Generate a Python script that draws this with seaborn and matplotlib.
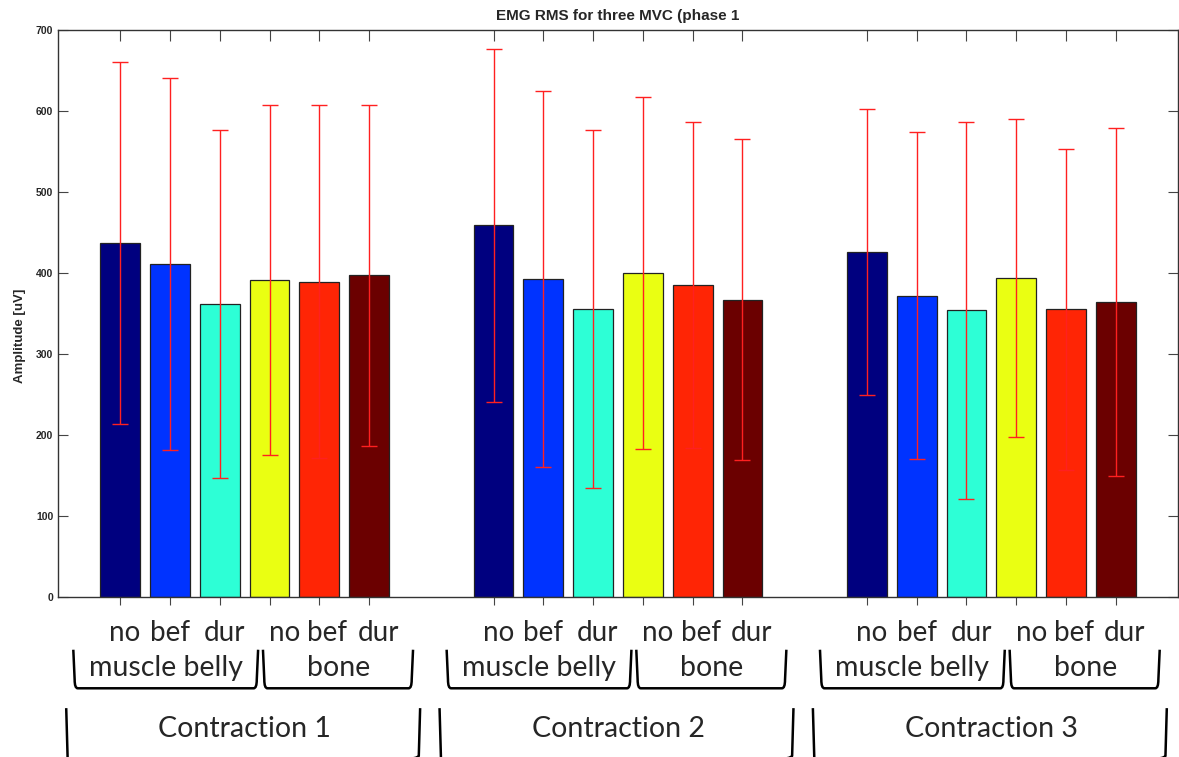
import numpy as np
import pandas as pd
import seaborn as sns
import matplotlib
matplotlib.use("Agg")
import matplotlib.pyplot as plt
from matplotlib.path import Path
from matplotlib.patches import PathPatch
from matplotlib.transforms import blended_transform_factory
from matplotlib.markers import TICKDOWN

# dados
contracoes = ['Contraction 1', 'Contraction 2', 'Contraction 3']
condicoes = ['belly no', 'belly bef', 'belly dur', 'bone no', 'bone bef', 'bone dur']
sub_labels = ['no', 'bef', 'dur', 'no', 'bef', 'dur']
locais = ['muscle belly', 'bone']

media_c1 = [437, 411, 362, 391, 389, 397]
media_c2 = [459, 393, 356, 400, 385, 367]
media_c3 = [426, 372, 354, 394, 355, 364]
dp_c1 = [224, 230, 215, 216, 218, 211]
dp_c2 = [218, 232, 221, 217, 201, 198]
dp_c3 = [177, 202, 233, 196, 198, 215]

cores = ['#00007f', '#0033ff', '#2dffd6', '#eaff12', '#ff2505', '#6b0000']

linhas = []
for c, med, dp in zip(contracoes, [media_c1, media_c2, media_c3], [dp_c1, dp_c2, dp_c3]):
    for cond, m, s in zip(condicoes, med, dp):
        linhas.append({'Contracao': c, 'Condicao': cond, 'RMS': m, 'DP': s})
dados = pd.DataFrame(linhas)

sns.set_style('white')
plt.rcParams['font.family'] = ['Liberation Sans', 'DejaVu Sans']

fig = plt.figure(figsize=(11.79, 7.57), dpi=100)
ax = fig.add_axes([58 / 1179, 1 - 597 / 757, 1120 / 1179, 567 / 757])

sns.barplot(data=dados, x='Contracao', y='RMS', hue='Condicao', order=contracoes,
            hue_order=condicoes, palette=cores, gap=0.2, edgecolor='#222222',
            linewidth=0.9, saturation=1, errorbar=None, legend=False, ax=ax)

# barras de erro (media +- desvio), casando cada barra pela posicao
barras = sorted([p for p in ax.patches if p.get_height() > 0],
                key=lambda p: p.get_x())
todos_dp = dp_c1 + dp_c2 + dp_c3
centros = []
for bar, s in zip(barras, todos_dp):
    xc = bar.get_x() + bar.get_width() / 2
    centros.append(xc)
    ax.errorbar(xc, bar.get_height(), yerr=s, fmt='none', ecolor='#ff2020',
                elinewidth=1.0, capsize=6, capthick=1.0, zorder=5)

ax.set_xlim(-0.5, 2.5)
ax.set_ylim(0, 700)
ax.set_yticks(range(0, 701, 100))
ax.set_xticks(centros)
ax.set_xticklabels([])
ax.set_xlabel('')
ax.set_ylabel('Amplitude [uV]', fontsize=9.5, fontweight='bold')
ax.yaxis.set_label_coords(-0.029, 0.46)
ax.set_title('EMG RMS for three MVC (phase 1', fontsize=11, fontweight='bold', pad=7)

for sp in ax.spines.values():
    sp.set_visible(True)
    sp.set_color('#333333')
    sp.set_linewidth(1.0)

ax.tick_params(axis='y', direction='in', length=7, left=True, right=True,
               labelsize=7.5, color='#444444')
ax.tick_params(axis='x', which='both', top=True, bottom=True, direction='inout',
               length=12, color='#444444')
# em cima o tick fica so para dentro
for t in ax.xaxis.get_major_ticks():
    t.tick2line.set_marker(TICKDOWN)
    t.tick2line.set_markersize(8)
for lab in ax.get_yticklabels():
    lab.set_fontweight('bold')

# rotulos de baixo
trans = blended_transform_factory(ax.transData, ax.transAxes)
fonte = ['Lato', 'DejaVu Sans']
desloc = [0.013, 0.0, 0.013, 0.04, 0.022, 0.024]


def colchete(x0, x1, ytop, ybot, rx, ry):
    verts = [(x0, ytop), (x0 + rx * 0.3, ybot + ry), (x0 + rx * 0.3, ybot),
             (x0 + rx, ybot), (x1 - rx, ybot), (x1 - rx * 0.3, ybot),
             (x1 - rx * 0.3, ybot + ry), (x1, ytop)]
    codes = [Path.MOVETO, Path.LINETO, Path.CURVE3, Path.CURVE3, Path.LINETO,
             Path.CURVE3, Path.CURVE3, Path.LINETO]
    ax.add_patch(PathPatch(Path(verts, codes), transform=trans, fill=False,
                           edgecolor='black', linewidth=1.8, clip_on=False))


for g in range(len(contracoes)):
    xs = centros[g * 6:(g + 1) * 6]
    for xb, txt, dx in zip(xs, sub_labels, desloc):
        ax.text(xb + dx, -0.063, txt, transform=trans, ha='center', va='center',
                fontsize=20, family=fonte, clip_on=False)
    ax.text(g - 0.212, -0.125, locais[0], transform=trans, ha='center', va='center',
            fontsize=20.5, family=fonte, clip_on=False)
    ax.text(g + 0.252, -0.125, locais[1], transform=trans, ha='center', va='center',
            fontsize=20.5, family=fonte, clip_on=False)
    colchete(g - 0.459, g + 0.036, -0.093, -0.161, 0.012, 0.015)
    colchete(g + 0.049, g + 0.451, -0.093, -0.161, 0.012, 0.015)
    ax.text(g, -0.232, contracoes[g], transform=trans, ha='center', va='center',
            fontsize=20.5, family=fonte, clip_on=False)
    colchete(g - 0.478, g + 0.470, -0.196, -0.30, 0.012, 0.02)

fig.savefig('out.png', dpi=100)
